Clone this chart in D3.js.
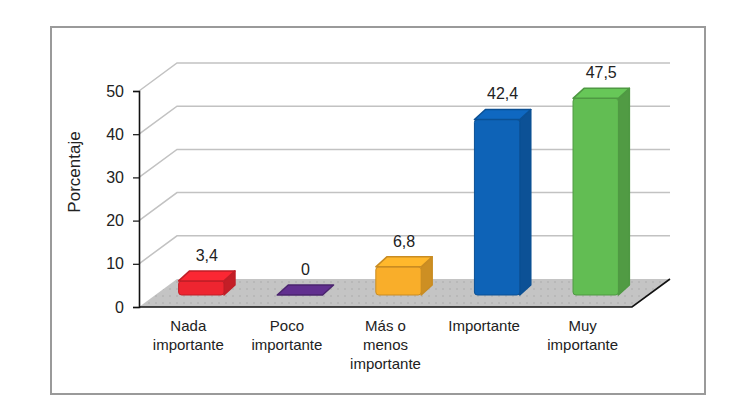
<!DOCTYPE html>
<html>
<head>
<meta charset="utf-8">
<script src="https://cdn.jsdelivr.net/npm/d3@7"></script>
<style>
  body { margin: 0; background: #fff; }
  text { font-family: "Liberation Sans", Arial, sans-serif; fill: #222; }
</style>
</head>
<body>
<div id="chart"></div>
<script>
// data
const categories = ["Nada importante", "Poco importante", "Más o menos importante", "Importante", "Muy importante"]
const categoryLines = [["Nada", "importante"], ["Poco", "importante"], ["Más o", "menos", "importante"], ["Importante"], ["Muy", "importante"]]
const values = [3.4, 0, 6.8, 42.4, 47.5]
const barColors = ["#ee2530", "#5c2d88", "#f9ae2a", "#0e63b7", "#62bd53"]
const yTicks = [0, 10, 20, 30, 40, 50]

const WIDTH = 752, HEIGHT = 414
const PLOT = { LEFT: 139, RIGHT: 632, BOTTOM: 307 }
const DEPTH = { DX: 38, DY: -28 }     // floor / wall depth
const BAR_OFF = { DX: 13, DY: -12 }   // bar front face from floor front edge
const BAR_D = { DX: 11, DY: -10 }     // bar thickness

const svg = d3.select("#chart").append("svg")
  .attr("width", WIDTH)
  .attr("height", HEIGHT)

// outer frame
svg.append("rect")
  .attr("x", 51).attr("y", 27)
  .attr("width", 654).attr("height", 367)
  .attr("fill", "none")
  .attr("stroke", "#9a9a9a")
  .attr("stroke-width", 2)

// floor dot pattern
const defs = svg.append("defs")
const pat = defs.append("pattern")
  .attr("id", "dots")
  .attr("width", 7).attr("height", 7)
  .attr("patternUnits", "userSpaceOnUse")
pat.append("rect").attr("width", 7).attr("height", 7).attr("fill", "#c4c4c4")
pat.append("circle").attr("cx", 2).attr("cy", 2).attr("r", 0.8).attr("fill", "#a9a9a9")

// Scales
const y = d3.scaleLinear()
  .domain([0, 50])
  .range([PLOT.BOTTOM, 91])
const barH = d3.scaleLinear()
  .domain([0, 50])
  .range([0, 207])
const x = d3.scaleBand()
  .domain(categories)
  .range([PLOT.LEFT, PLOT.RIGHT])
  .paddingInner(0.54)
  .paddingOuter(0.27)

const locale = d3.formatLocale({ decimal: ",", thousands: ".", grouping: [3], currency: ["", ""] })
const fmt = locale.format(".1~f")

// floor
const floor = [
  [PLOT.LEFT, PLOT.BOTTOM], [PLOT.RIGHT, PLOT.BOTTOM],
  [PLOT.RIGHT + DEPTH.DX, PLOT.BOTTOM + DEPTH.DY], [PLOT.LEFT + DEPTH.DX, PLOT.BOTTOM + DEPTH.DY]
]
svg.append("path")
  .attr("d", "M" + floor.join("L") + "Z")
  .attr("fill", "url(#dots)")

// grid lines: side wall slant + back wall
const grid = svg.append("g")
  .attr("stroke", "#c2c2c2")
  .attr("stroke-width", 1.5)
  .attr("fill", "none")
grid.selectAll("path")
  .data(yTicks.filter(d => d > 0))
  .enter().append("path")
  .attr("d", d => `M${PLOT.LEFT},${y(d)}L${PLOT.LEFT + DEPTH.DX},${y(d) + DEPTH.DY}L${PLOT.RIGHT + DEPTH.DX},${y(d) + DEPTH.DY}`)

// Y Axis
const yAxisCall = d3.axisLeft(y)
  .tickValues(yTicks)
  .tickSize(6)
  .tickPadding(9)
const yAxis = svg.append("g")
  .attr("transform", `translate(${PLOT.LEFT}, 0)`)
  .call(yAxisCall)
yAxis.select(".domain").attr("stroke", "#111").attr("stroke-width", 1.6)
yAxis.selectAll(".tick line").attr("stroke", "#111").attr("stroke-width", 1.2)
yAxis.selectAll(".tick text")
  .attr("font-size", "16px")
  .attr("font-family", "Liberation Sans, Arial, sans-serif")
  .attr("fill", "#222")

// floor front edge + right edge
svg.append("path")
  .attr("d", `M${PLOT.LEFT},${PLOT.BOTTOM}L${PLOT.RIGHT},${PLOT.BOTTOM}L${PLOT.RIGHT + DEPTH.DX},${PLOT.BOTTOM + DEPTH.DY}`)
  .attr("fill", "none")
  .attr("stroke", "#111")
  .attr("stroke-width", 1.6)

// Y label
svg.append("text")
  .attr("transform", "rotate(-90)")
  .attr("x", -172)
  .attr("y", 80)
  .attr("font-size", "17px")
  .attr("text-anchor", "middle")
  .text("Porcentaje")

// Bars
const bars = svg.selectAll("g.bar")
  .data(categories.map((c, i) => ({ cat: c, value: values[i], color: barColors[i] })))
  .enter().append("g")
  .attr("class", "bar")

bars.each(function(d) {
  const g = d3.select(this)
  const x0 = x(d.cat) + BAR_OFF.DX
  const x1 = x0 + x.bandwidth()
  const yb = PLOT.BOTTOM + BAR_OFF.DY
  const yt = yb - barH(d.value)
  const c = d3.color(d.color)
  const edge = c.darker(0.6)
  const common = sel => sel.attr("stroke-linejoin", "round").attr("stroke-width", 1.5)

  if (d.value > 0) {
    // side
    g.append("path")
      .attr("d", `M${x1},${yb}L${x1 + BAR_D.DX},${yb + BAR_D.DY}L${x1 + BAR_D.DX},${yt + BAR_D.DY}L${x1},${yt}Z`)
      .attr("fill", c.darker(0.55))
      .attr("stroke", edge)
      .call(common)
    // front
    g.append("rect")
      .attr("x", x0).attr("y", yt)
      .attr("width", x1 - x0).attr("height", yb - yt)
      .attr("rx", 3)
      .attr("fill", d.color)
      .attr("stroke", edge)
      .attr("stroke-width", 1)
  }
  // top
  g.append("path")
    .attr("d", `M${x0},${yt}L${x1},${yt}L${x1 + BAR_D.DX},${yt + BAR_D.DY}L${x0 + BAR_D.DX},${yt + BAR_D.DY}Z`)
    .attr("fill", c.brighter(0.15))
    .attr("stroke", edge)
    .call(common)

  // value label
  g.append("text")
    .attr("x", (x0 + x1) / 2 + BAR_D.DX / 2)
    .attr("y", yt + BAR_D.DY - 10)
    .attr("font-size", "16px")
    .attr("text-anchor", "middle")
    .text(fmt(d.value))
})

// category labels
const catLabels = svg.append("g")
categories.forEach((c, i) => {
  const t = catLabels.append("text")
    .attr("x", x(c) + x.bandwidth() / 2)
    .attr("y", 331)
    .attr("font-size", "15px")
    .attr("text-anchor", "middle")
  categoryLines[i].forEach((line, j) => {
    t.append("tspan")
      .attr("x", x(c) + x.bandwidth() / 2)
      .attr("dy", j === 0 ? 0 : 19)
      .text(line)
  })
})
</script>
</body>
</html>
